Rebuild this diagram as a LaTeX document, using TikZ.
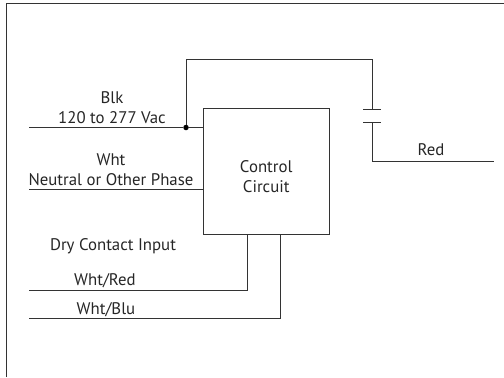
\documentclass[tikz,border=0pt]{standalone}
\usepackage{fontspec}
\setmainfont{PT Sans}
\usetikzlibrary{positioning}
\usetikzlibrary{calc}
\begin{document}
\begin{tikzpicture} [
                x=1bp, y=-1bp,
                wire/.style = {draw=black!80, line width=.9bp},
                lbl/.style = {font=\fontsize{16.8bp}{20bp}\selectfont, text=black!85, inner sep=0pt, anchor=base}
            ]
            \useasboundingbox (0,0) rectangle (504,377);
            \coordinate (fa) at (6,377);
            \coordinate (fb) at (6,3);
            \coordinate (fc) at (504,3);
            \draw [wire] (fa) -- (fb) -- (fc);
            \node (ctl) at (266.25,171.5) [wire,minimum width=125.5bp,minimum height=125.5bp,inner sep=0pt] {};
            \node[lbl,align=center,anchor=center] (ctltxt) at ([yshift=-5bp] ctl.center) {Control\\Circuit};
            \node (dot) at (186,127.5) [circle,fill=black,minimum size=5.5bp,inner sep=0pt] {};
            \coordinate (blkin) at (29,127.5);
            \coordinate (whtin) at (29,189);
            \coordinate (wrin) at (29,290);
            \coordinate (wbin) at (29,318);
            \coordinate (wrup) at (247,290);
            \coordinate (wbup) at (280,318);
            \coordinate (toplft) at (186,59);
            \coordinate (toprgt) at (372,59);
            \coordinate (capa) at (372,109.5);
            \coordinate (capb) at (372,122.5);
            \coordinate (redcr) at (372,161);
            \coordinate (redout) at (494,161);
            \draw [wire] (blkin) -- (dot) -- (dot -| ctl.west);
            \draw [wire] (dot) -- (toplft) -- (toprgt) -- (capa);
            \draw [wire] ([xshift=-9bp] capa) -- ([xshift=9bp] capa);
            \draw [wire] ([xshift=-9bp] capb) -- ([xshift=9bp] capb);
            \draw [wire] (capb) -- (redcr) -- (redout);
            \draw [wire] (whtin) -- (whtin -| ctl.west);
            \draw [wire] (wrin) -- (wrup) -- (wrup |- ctl.south);
            \draw [wire] (wbin) -- (wbup) -- (wbup |- ctl.south);
            \node[lbl] (blk) at (112,103) {Blk};
            \node[lbl] (vac) at (112,123) {120 to 277 Vac};
            \node[lbl] (wht) at (111,165) {Wht};
            \node[lbl] (neu) at (111,185) {Neutral or Other Phase};
            \node[lbl] (dry) at (113,250) {Dry Contact Input};
            \node[lbl] (wr) at (105,285) {Wht/Red};
            \node[lbl] (wb) at (106,314) {Wht/Blu};
            \node[lbl] (red) at (431,155) {Red};
        \end{tikzpicture}
\end{document}
